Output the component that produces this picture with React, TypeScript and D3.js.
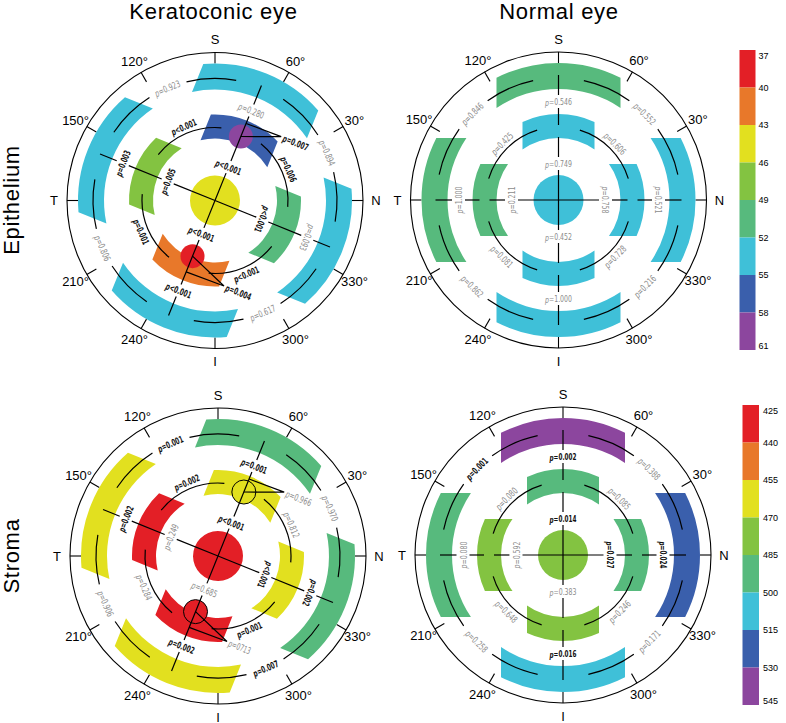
import React from 'react';
import * as d3 from 'd3';

const W = 786, H = 723;

const epiTicks = [37, 40, 43, 46, 49, 52, 55, 58, 61];
const stromaTicks = [425, 440, 455, 470, 485, 500, 515, 530, 545];
const palette = ['#e31f26', '#e8782a', '#e2e01f', '#83c341', '#57ba7d', '#3fc0d8', '#3a5fac', '#8c469e'];

const columnTitles = ['Keratoconic eye', 'Normal eye'];
const rowTitles = ['Epithelium', 'Stroma'];
const angleLabels = ['S', '60°', '30°', 'N', '330°', '300°', 'I', '240°', '210°', 'T', '150°', '120°'];

// thickness values: center, inner S, N, I, T, outer S, N, I, T
const epiKCValues = [44.6, 56.4, 50.3, 41.7, 47.2, 53.4, 53.8, 53.6, 53.9];
const epiNormalValues = [53.5, 53.7, 53.2, 53.4, 51.3, 51.6, 52.7, 53.0, 51.8];
const stromaKCValues = [432, 461, 464, 437, 435, 492, 494, 467, 462];
const stromaNormalValues = [477, 491, 489, 480, 482, 538, 523, 508, 497];
// keratoconic extreme points: max, min
const epiKCPoints = [59.6, 38.4];
const stromaKCPoints = [463, 431];

// radial p-values by axis S, N, I, T (outer comparison, inner comparison)
const epiKCRadialP = ['p=0.280', 'p<0.001', 'p=0.093', 'p<0.001', 'p<0.001', 'p<0.001', 'p=0.003', 'p=0.005'];
const epiNormalRadialP = ['p=0.546', 'p=0.749', 'p=0.521', 'p=0.758', 'p=1.000', 'p=0.452', 'p=1.000', 'p=0.211'];
const stromaKCRadialP = ['p=0.001', 'p<0.001', 'p=0.002', 'p<0.001', 'p=0.002', 'p=0.685', 'p=0.002', 'p=0.249'];
const stromaNormalRadialP = ['p=0.002', 'p=0.014', 'p=0.024', 'p=0.027', 'p=0.016', 'p=0.383', 'p=0.080', 'p=0.592'];
// arc p-values by quadrant S-N, N-I, I-T, T-S
const epiKCInnerP = ['p=0.006', 'p<0.001', 'p=0.001', 'p<0.001'];
const epiKCOuterP = ['p=0.894', 'p=0.617', 'p=0.806', 'p=0.923'];
const epiNormalInnerP = ['p=0.606', 'p=0.728', 'p=0.081', 'p=0.425'];
const epiNormalOuterP = ['p=0.552', 'p=0.216', 'p=0.862', 'p=0.846'];
const stromaKCInnerP = ['p=0.812', 'p=0.001', 'p=0.284', 'p=0.002'];
const stromaKCOuterP = ['p=0.970', 'p=0.007', 'p=0.906', 'p=0.001'];
const stromaNormalInnerP = ['p=0.085', 'p=0.246', 'p=0.648', 'p=0.080'];
const stromaNormalOuterP = ['p=0.388', 'p=0.171', 'p=0.258', 'p=0.001'];
// point p-values: max, min
const epiKCPointP = ['p=0.007', 'p=0.004'];
const stromaKCPointP = ['p=0.966', 'p=0713'];

const deg = Math.PI / 180;
const pol = (a: number, r: number): [number, number] => [r * Math.sin(a * deg), -r * Math.cos(a * deg)];

const epiScale = d3.scaleThreshold<number, string>().domain(epiTicks.slice(1, -1)).range(palette);
const stromaScale = d3.scaleThreshold<number, string>().domain(stromaTicks.slice(1, -1)).range(palette);

const R_AXIS = 148, TICK = 11, LBL_R = 161;
const CENTER_R = 25;
const INNER = { ri: 62, ro: 86, w: 36 };
const OUTER = { ri: 111, ro: 137, w: 62 };
const RING_IN = 73, RING_OUT = 122;
const AXES = [0, 90, 180, 270];

function bandPath(ri: number, ro: number, w: number) {
  const yo = Math.sqrt(ro * ro - w * w), yi = Math.sqrt(ri * ri - w * w);
  return `M${-w},${-yo}A${ro},${ro} 0 0 1 ${w},${-yo}L${w},${-yi}A${ri},${ri} 0 0 0 ${-w},${-yi}Z`;
}
function arcPath(r: number, a0: number, a1: number) {
  const p = d3.path();
  p.arc(0, 0, r, (a0 - 90) * deg, (a1 - 90) * deg, a1 < a0);
  return p.toString();
}
function seg(a: number, r0: number, r1: number) {
  const p = d3.path();
  const [x0, y0] = pol(a, r0), [x1, y1] = pol(a, r1);
  p.moveTo(x0, y0); p.lineTo(x1, y1);
  return p.toString();
}

const isSig = (s: string) => s.includes('<') || parseFloat(s.split('=')[1]) < 0.05;

function PLabel({ x, y, rot, text, anchor = 'middle' }: any) {
  const sig = isSig(text);
  return (
    <text transform={`translate(${x},${y}) rotate(${rot})`} textAnchor={anchor} dominantBaseline="central"
      fontSize={9.5} fontFamily='"Liberation Sans Narrow","Arial Narrow","DejaVu Sans Condensed",sans-serif'
      fontWeight={sig ? 'bold' : 'normal'} fill={sig ? '#111' : '#8c8c8c'}
      textLength={text.length * 3.85} lengthAdjust="spacingAndGlyphs">
      <tspan fontStyle="italic">p</tspan>{text.slice(1)}
    </text>
  );
}

function Chart({ c }: any) {
  const { cx, cy, rot, values, scale, radial, innerP, outerP, kc, points, pointP, outline } = c;
  const g = 6.5;
  const lines: string[] = [];
  const labels: any[] = [];
  AXES.forEach((a, i) => {
    const vert = a === 0 || a === 180;
    let cfg;
    if (kc) cfg = vert ? { start: 124, o: 97, ring: null, inn: 36 } : { start: 124, o: 99.5, ring: null, inn: 51 };
    else cfg = vert ? { start: 125, o: 98.5, ring: [63, 75], inn: 36.5 } : { start: 123, o: 100, ring: [69, 79], inn: 47 };
    const A = a + rot;
    lines.push(seg(A, cfg.start, cfg.o + g));
    if (cfg.ring) {
      lines.push(seg(A, cfg.o - g, cfg.ring[1]));
      lines.push(seg(A, cfg.ring[0], cfg.inn + g));
    } else {
      lines.push(seg(A, cfg.o - g, cfg.inn + g));
    }
    lines.push(seg(A, cfg.inn - g, 0));
    const lr = rot + (a === 90 ? 90 : a === 270 ? -90 : 0);
    const po = pol(A, cfg.o), pi = pol(A, cfg.inn);
    labels.push(<PLabel key={`ro${i}`} x={po[0]} y={po[1]} rot={lr} text={radial[i * 2]} />);
    labels.push(<PLabel key={`ri${i}`} x={pi[0]} y={pi[1]} rot={lr} text={radial[i * 2 + 1]} />);
    lines.push(arcPath(RING_IN, A + 17, A + 73));
    lines.push(arcPath(RING_OUT, A + 12, A + 35.5));
    lines.push(arcPath(RING_OUT, A + 54.5, A + 78));
    const qr = rot + (i % 2 === 0 ? 45 : -45);
    const pin = pol(A + 45, 80), pout = pol(A + 45, RING_OUT);
    labels.push(<PLabel key={`ai${i}`} x={pin[0]} y={pin[1]} rot={qr} text={innerP[i]} />);
    labels.push(<PLabel key={`ao${i}`} x={pout[0]} y={pout[1]} rot={qr} text={outerP[i]} />);
  });

  const dots: any[] = [];
  if (kc) {
    const defs = [
      { a: 0, r: 69, r2: 83, va: 24, vr: 92 },
      { a: 180, r: 60, r2: 77, va: 152, vr: 86 },
    ];
    defs.forEach((d, i) => {
      const [x, y] = pol(d.a + rot, d.r);
      const [x2, y2] = pol(d.a + rot, d.r2);
      const [vx, vy] = pol(d.va + rot, d.vr);
      dots.push(<circle key={`d${i}`} cx={x} cy={y} r={12} fill={scale(points[i])} stroke={outline ? '#000' : 'none'} strokeWidth={1} />);
      const p = d3.path();
      p.moveTo(x, y); p.lineTo(vx, vy); p.lineTo(x2, y2);
      lines.push(p.toString());
      labels.push(<PLabel key={`pp${i}`} x={vx + 2} y={vy + 1} rot={rot} text={pointP[i]} anchor="start" />);
    });
  }

  return (
    <g transform={`translate(${cx},${cy})`}>
      <circle r={R_AXIS} fill="none" stroke="#000" strokeWidth={1.1} />
      {angleLabels.map((t, i) => {
        const a = i * 30;
        const [x0, y0] = pol(a, R_AXIS), [x1, y1] = pol(a, R_AXIS - TICK);
        const [lx, ly] = pol(a, LBL_R);
        return (
          <g key={t}>
            <line x1={x0} y1={y0} x2={x1} y2={y1} stroke="#000" strokeWidth={1.1} />
            <text x={lx} y={ly} textAnchor="middle" dominantBaseline="central" fontSize={13}
              fontFamily='"Liberation Sans",Arial,sans-serif'>{t}</text>
          </g>
        );
      })}
      <g transform={`rotate(${rot})`}>
        {AXES.map((a, i) => (
          <path key={`o${i}`} d={bandPath(OUTER.ri, OUTER.ro, OUTER.w)} transform={`rotate(${a})`} fill={scale(values[5 + i])} />
        ))}
        {AXES.map((a, i) => (
          <path key={`i${i}`} d={bandPath(INNER.ri, INNER.ro, INNER.w)} transform={`rotate(${a})`} fill={scale(values[1 + i])} />
        ))}
        <circle r={CENTER_R} fill={scale(values[0])} />
      </g>
      {dots}
      {lines.map((d, i) => <path key={`l${i}`} d={d} fill="none" stroke="#000" strokeWidth={1.2} />)}
      {labels}
    </g>
  );
}

function ColorBar({ x, y0, y1, w, ticks, lx }: any) {
  const y = d3.scaleLinear().domain([0, palette.length]).range([y0, y1]);
  return (
    <g>
      {palette.map((col, i) => (
        <rect key={i} x={x} y={y(i)} width={w} height={y(i + 1) - y(i)} fill={col} />
      ))}
      {ticks.map((t: number, i: number) => {
        const ty = Math.min(Math.max(y(i), y0 + 5.5), y1 - 4);
        return (
          <text key={t} x={lx} y={ty} dominantBaseline="central" fontSize={9}
            fontFamily='"Liberation Sans Narrow","Arial Narrow",sans-serif'>{t}</text>
        );
      })}
    </g>
  );
}

const titleFont = '"Liberation Sans",Arial,sans-serif';

export default function App() {
  const charts = [
    { cx: 215, cy: 200.5, rot: 22, kc: true, values: epiKCValues, scale: epiScale, radial: epiKCRadialP, innerP: epiKCInnerP, outerP: epiKCOuterP, points: epiKCPoints, pointP: epiKCPointP, outline: false },
    { cx: 558.5, cy: 200, rot: 0, kc: false, values: epiNormalValues, scale: epiScale, radial: epiNormalRadialP, innerP: epiNormalInnerP, outerP: epiNormalOuterP },
    { cx: 218, cy: 556, rot: 22, kc: true, values: stromaKCValues, scale: stromaScale, radial: stromaKCRadialP, innerP: stromaKCInnerP, outerP: stromaKCOuterP, points: stromaKCPoints, pointP: stromaKCPointP, outline: true },
    { cx: 563, cy: 555, rot: 0, kc: false, values: stromaNormalValues, scale: stromaScale, radial: stromaNormalRadialP, innerP: stromaNormalInnerP, outerP: stromaNormalOuterP },
  ];
  return (
    <svg width={W} height={H} style={{ position: 'absolute', left: 0, top: 0, background: '#fff' }}>
      <text x={213.5} y={19} textAnchor="middle" fontSize={22} letterSpacing={0.7} fontFamily={titleFont}>{columnTitles[0]}</text>
      <text x={559} y={19} textAnchor="middle" fontSize={22} letterSpacing={0.7} fontFamily={titleFont}>{columnTitles[1]}</text>
      <text transform="translate(19,200) rotate(-90)" textAnchor="middle" fontSize={22} letterSpacing={0.7} fontFamily={titleFont}>{rowTitles[0]}</text>
      <text transform="translate(19,556) rotate(-90)" textAnchor="middle" fontSize={22} letterSpacing={0.7} fontFamily={titleFont}>{rowTitles[1]}</text>
      {charts.map((c, i) => <Chart key={i} c={c} />)}
      <ColorBar x={739.5} y0={50} y1={350} w={16} ticks={epiTicks} lx={758.5} />
      <ColorBar x={742.5} y0={405} y1={705} w={16.5} ticks={stromaTicks} lx={763} />
    </svg>
  );
}
